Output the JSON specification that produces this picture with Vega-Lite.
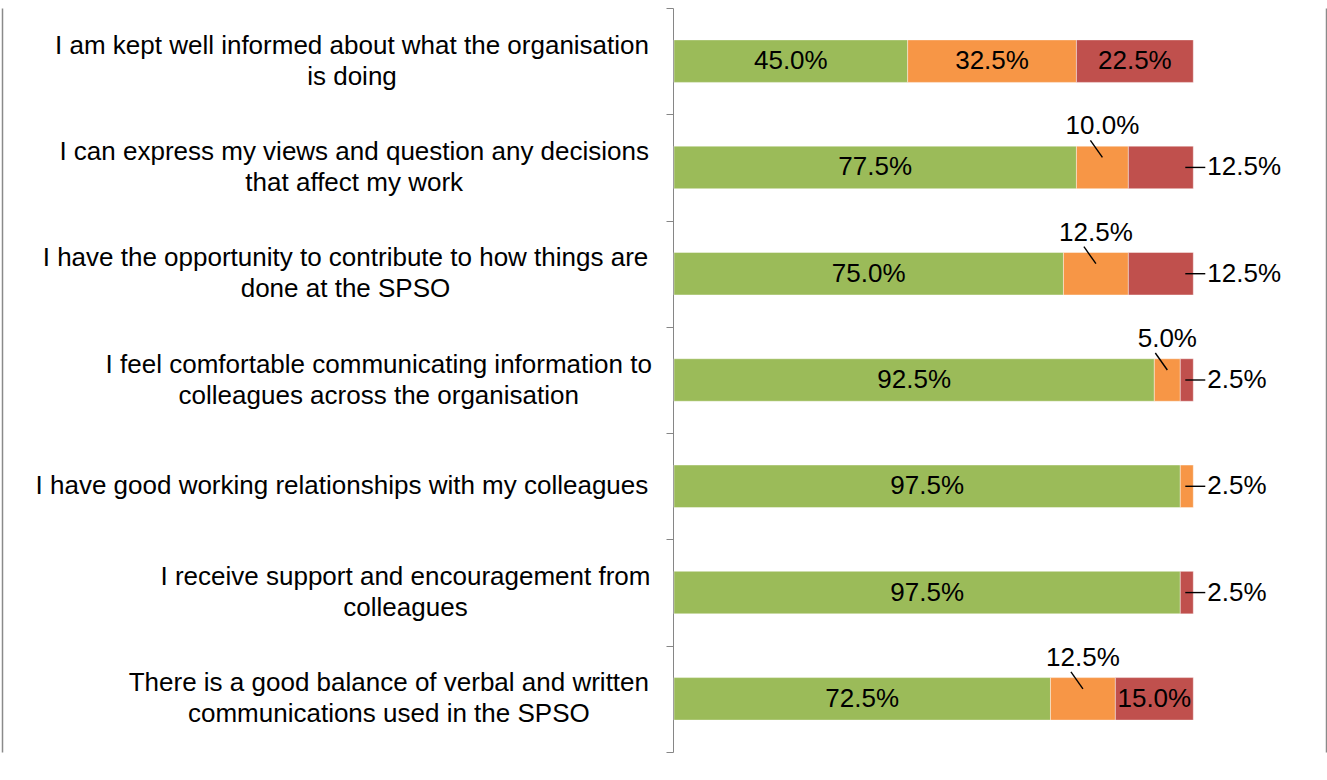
{
  "$schema": "https://vega.github.io/schema/vega-lite/v6.json",
  "width": 1327,
  "height": 780,
  "autosize": {"type": "none"},
  "padding": 0,
  "background": "white",
  "config": {"view": {"stroke": null}, "font": "Liberation Sans"},
  "data": {
    "values": [
      {"q": "I am kept well informed about what the organisation|is doing", "series": "Agree", "value": 0.45},
      {"q": "I am kept well informed about what the organisation|is doing", "series": "Neutral", "value": 0.325},
      {"q": "I am kept well informed about what the organisation|is doing", "series": "Disagree", "value": 0.225},
      {"q": "I can express my views and question any decisions|that affect my work", "series": "Agree", "value": 0.775},
      {"q": "I can express my views and question any decisions|that affect my work", "series": "Neutral", "value": 0.1},
      {"q": "I can express my views and question any decisions|that affect my work", "series": "Disagree", "value": 0.125},
      {"q": "I have the opportunity to contribute to how things are|done at the SPSO", "series": "Agree", "value": 0.75},
      {"q": "I have the opportunity to contribute to how things are|done at the SPSO", "series": "Neutral", "value": 0.125},
      {"q": "I have the opportunity to contribute to how things are|done at the SPSO", "series": "Disagree", "value": 0.125},
      {"q": "I feel comfortable communicating information to|colleagues across the organisation", "series": "Agree", "value": 0.925},
      {"q": "I feel comfortable communicating information to|colleagues across the organisation", "series": "Neutral", "value": 0.05},
      {"q": "I feel comfortable communicating information to|colleagues across the organisation", "series": "Disagree", "value": 0.025},
      {"q": "I have good working relationships with my colleagues", "series": "Agree", "value": 0.975},
      {"q": "I have good working relationships with my colleagues", "series": "Neutral", "value": 0.025},
      {"q": "I receive support and encouragement from|colleagues", "series": "Agree", "value": 0.975},
      {"q": "I receive support and encouragement from|colleagues", "series": "Disagree", "value": 0.025},
      {"q": "There is a good balance of verbal and written|communications used in the SPSO", "series": "Agree", "value": 0.725},
      {"q": "There is a good balance of verbal and written|communications used in the SPSO", "series": "Neutral", "value": 0.125},
      {"q": "There is a good balance of verbal and written|communications used in the SPSO", "series": "Disagree", "value": 0.15}
    ]
  },
  "transform": [
    {"calculate": "indexof(['Agree','Neutral','Disagree'], datum.series)", "as": "k"},
    {"stack": "value", "groupby": ["q"], "sort": [{"field": "k", "order": "ascending"}], "as": ["v0", "v1"]},
    {"calculate": "(datum.v0 + datum.v1) / 2", "as": "mid"},
    {"calculate": "split(datum.q, '|')", "as": "lines"}
  ],
  "encoding": {
    "y": {
      "field": "q",
      "type": "nominal",
      "sort": [
        "I am kept well informed about what the organisation|is doing",
        "I can express my views and question any decisions|that affect my work",
        "I have the opportunity to contribute to how things are|done at the SPSO",
        "I feel comfortable communicating information to|colleagues across the organisation",
        "I have good working relationships with my colleagues",
        "I receive support and encouragement from|colleagues",
        "There is a good balance of verbal and written|communications used in the SPSO"
      ],
      "scale": {"range": [8, 752], "paddingInner": 0, "paddingOuter": 0},
      "axis": {
        "title": null,
        "orient": "left",
        "offset": -673,
        "tickBand": "extent",
        "tickSize": 7,
        "tickWidth": 1,
        "tickColor": "#868686",
        "domainColor": "#868686",
        "domainWidth": 1,
        "labels": false
      }
    }
  },
  "layer": [
    {
      "mark": {"type": "bar", "height": {"band": 0.4}, "stroke": "white", "strokeWidth": 0.6, "strokeOpacity": 0.7},
      "encoding": {
        "x": {
          "field": "v0",
          "type": "quantitative",
          "scale": {"domain": [-1.2979, 1.2575], "nice": false, "zero": false},
          "axis": {
            "orient": "top",
            "values": [-1.29309, 1.2565],
            "grid": true,
            "gridColor": "#8a8a8a",
            "gridWidth": 1.5,
            "domain": false,
            "ticks": false,
            "labels": false,
            "title": null
          }
        },
        "x2": {"field": "v1"},
        "color": {
          "field": "series",
          "type": "nominal",
          "scale": {"domain": ["Agree", "Neutral", "Disagree"], "range": ["#9BBB59", "#F79646", "#C0504D"]},
          "legend": null
        }
      }
    },
    {
      "transform": [{"filter": "datum.k == 0"}],
      "mark": {
        "type": "text",
        "font": "Liberation Sans",
        "fontSize": 26,
        "color": "black",
        "align": "center",
        "baseline": "middle",
        "lineHeight": 31,
        "dy": {"expr": "-15.5 * (length(datum.lines) - 1)"},
        "dx": {"expr": "-25 - 13 * (0.556 * length(datum.lines[0]) - 0.334 * length(replace(datum.lines[0], regexp('[^ijl]', 'g'), '')) - 0.278 * length(replace(datum.lines[0], regexp('[^tfI .]', 'g'), '')) - 0.223 * length(replace(datum.lines[0], regexp('[^r]', 'g'), '')) + 0.222 * length(replace(datum.lines[0], regexp('[^mw]', 'g'), '')) - 0.056 * length(replace(datum.lines[0], regexp('[^cksvxyz]', 'g'), '')))"}
      },
      "encoding": {
        "x": {"datum": 0, "type": "quantitative"},
        "text": {"field": "lines"}
      }
    },
    {
      "transform": [{"filter": "datum.value >= 0.15"}],
      "mark": {"type": "text", "font": "Liberation Sans", "fontSize": 26, "color": "black", "align": "center", "baseline": "middle"},
      "encoding": {
        "x": {"field": "mid", "type": "quantitative"},
        "text": {"field": "value", "type": "quantitative", "format": ".1%"}
      }
    },
    {
      "transform": [{"filter": "datum.value < 0.15 && datum.v1 < 0.9999"}],
      "mark": {"type": "text", "font": "Liberation Sans", "fontSize": 26, "color": "black", "align": "center", "baseline": "middle", "dy": -41},
      "encoding": {
        "x": {"field": "mid", "type": "quantitative"},
        "text": {"field": "value", "type": "quantitative", "format": ".1%"}
      }
    },
    {
      "transform": [{"filter": "datum.value < 0.15 && datum.v1 < 0.9999"}],
      "mark": {"type": "rule", "color": "black", "strokeWidth": 1.4, "xOffset": -12, "yOffset": -27, "x2Offset": 0, "y2Offset": -10},
      "encoding": {
        "x": {"field": "mid", "type": "quantitative"},
        "x2": {"field": "mid"},
        "y2": {"field": "q"}
      }
    },
    {
      "transform": [{"filter": "datum.value < 0.15 && datum.v1 >= 0.9999"}],
      "mark": {"type": "text", "font": "Liberation Sans", "fontSize": 26, "color": "black", "align": "left", "baseline": "middle", "dx": 14},
      "encoding": {
        "x": {"field": "v1", "type": "quantitative"},
        "text": {"field": "value", "type": "quantitative", "format": ".1%"}
      }
    },
    {
      "transform": [{"filter": "datum.value < 0.15 && datum.v1 >= 0.9999"}],
      "mark": {"type": "rule", "color": "black", "strokeWidth": 1.4, "xOffset": -8, "x2Offset": 12},
      "encoding": {
        "x": {"field": "v1", "type": "quantitative"},
        "x2": {"field": "v1"}
      }
    }
  ]
}
